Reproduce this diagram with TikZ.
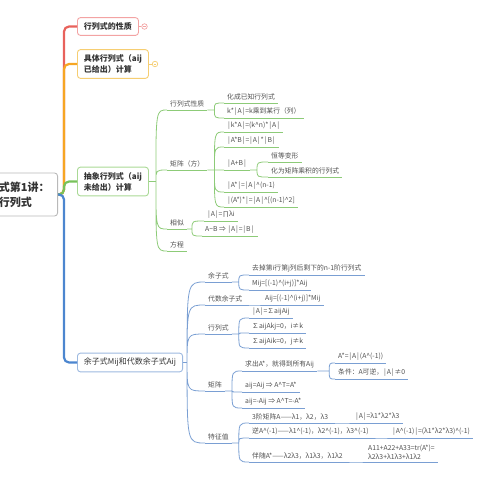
\documentclass[tikz,border=0pt]{standalone}
\usepackage{fontspec}
\setmainfont{Noto Sans CJK SC}
\usetikzlibrary{calc}
\newcommand{\vb}{\kern0.9pt|\kern0.9pt}
\definecolor{redl}{HTML}{E8625C}
\definecolor{redb}{HTML}{F3A3A3}
\definecolor{orgl}{HTML}{F6A623}
\definecolor{orgb}{HTML}{F6CE72}
\definecolor{grnl}{HTML}{78C25A}
\definecolor{grnb}{HTML}{A9D995}
\definecolor{grns}{HTML}{8DCB78}
\definecolor{blul}{HTML}{4C86CF}
\definecolor{blub}{HTML}{9DB9E0}
\definecolor{blus}{HTML}{7A9FD3}
\definecolor{txt}{HTML}{333333}
\definecolor{txts}{HTML}{505050}
\begin{document}
\begin{tikzpicture}[x=1pt,y=-1pt,
  rootbox/.style={draw=gray!55, line width=0.9pt, rounded corners=3pt, fill=white,
    font=\fontsize{11}{15}\selectfont\bfseries, text=txt, align=left,
    inner xsep=8pt, inner ysep=4pt, minimum height=43pt, anchor=east},
  mainbox/.style={draw=#1, line width=0.9pt, rounded corners=3pt, fill=white,
    font=\fontsize{8}{11}\selectfont\bfseries, text=txt, align=left,
    inner xsep=6.5pt, inner ysep=5pt, anchor=west},
  spine/.style={draw=#1, line width=2.2pt, rounded corners=5pt},
  subt/.style={font=\fontsize{6.8}{9}\selectfont, text=txts, align=left,
    inner xsep=3pt, inner ysep=2.5pt, anchor=south west,
    append after command={\pgfextra{\draw[#1, line width=0.8pt] (\tikzlastnode.south west) -- (\tikzlastnode.south east);}}},
  gsub/.style={subt=grns}, bsub/.style={subt=blus},
  glink/.style={draw=grns, line width=0.8pt},
  blink/.style={draw=blus, line width=0.8pt},
  link/.style={to path={let \p1=(\tikztostart), \p2=(\tikztotarget) in -- (\x1+#1,\y1) .. controls (\x1+#1,\y2) .. (\p2)}},
  link/.default=7pt,
  ind/.style={circle, draw=#1, line width=0.7pt, fill=white, minimum size=5.5pt, inner sep=0pt}
]
\useasboundingbox (0,0) rectangle (480,480);

% root and main branches
\node[rootbox] (root) at (58,194.5) {式第1讲：\\行列式};
\coordinate (sp) at (64,194.5);
\node[mainbox=redb] (m1) at (77,26.5) {行列式的性质};
\node[mainbox=orgb] (m2) at (77,64) {具体行列式（aij\\已给出）计算};
\node[mainbox=grnb] (m3) at (77,181.5) {抽象行列式（aij\\未给出）计算};
\node[mainbox=blub, font=\fontsize{8}{11}\selectfont] (m4) at (77,362.5) {余子式Mij和代数余子式Aij};

\draw[spine=redl] (root.east) -- (sp) |- (m1.west);
\draw[spine=orgl] (root.east) -- (sp) |- (m2.west);
\draw[spine=grnl] (root.east) -- (sp) |- (m3.west);
\draw[spine=blul] (root.east) -- (sp) |- (m4.west);

% collapse indicators
\node[ind=redb] (c1) at (144.5,26.5) {};
\node[ind=orgb] (c2) at (155,64) {};
\draw[redb, line width=0.7pt] (m1.east) -- (c1.west);
\draw[orgb, line width=0.7pt] (m2.east) -- (c2.west);
\draw[redb, line width=0.6pt] ([xshift=-1.4pt]c1.center) -- ([xshift=1.4pt]c1.center);
\draw[orgb, line width=0.6pt] ([xshift=-1.4pt]c2.center) -- ([xshift=1.4pt]c2.center);

% green branch
\node[gsub] (gA) at (167,110) {行列式性质};
\node[gsub] (gB) at (167,170) {矩阵（方）};
\node[gsub] (gC) at (167,229) {相似};
\node[gsub] (gD) at (167,251) {方程};
\node[gsub] (gA1) at (224,103) {化成已知行列式};
\node[gsub] (gA2) at (224,118) {k*\vb A\vb=k乘到某行（列）};
\node[gsub] (gB1) at (224,132) {\vb k*A\vb=(k\^{}n)*\vb A\vb};
\node[gsub] (gB2) at (224,147) {\vb A*B\vb=\vb A\vb*\vb B\vb};
\node[gsub] (gB3) at (224,170) {\vb A+B\vb};
\node[gsub] (gB4) at (224,192) {\vb A*\vb=\vb A\vb\^{}(n-1)};
\node[gsub] (gB5) at (224,207) {\vb(A*)*\vb=\vb A\vb\^{}[(n-1)\^{}2]};
\node[gsub] (gC1) at (204,221) {\vb A\vb=∏λi};
\node[gsub] (gC2) at (202,236) {A\textasciitilde B ⇒ \vb A\vb=\vb B\vb};
\node[gsub] (gB31) at (268,162) {恒等变形};
\node[gsub] (gB32) at (268,177) {化为矩阵乘积的行列式};

\draw[glink] (m3.east) to[link] (gA.south west) (m3.east) to[link] (gB.south west)
  (m3.east) to[link] (gC.south west) (m3.east) to[link] (gD.south west);
\draw[glink] (gA.south east) to[link] (gA1.south west) (gA.south east) to[link] (gA2.south west);
\draw[glink] (gB.south east) to[link] (gB1.south west) (gB.south east) to[link] (gB2.south west)
  (gB.south east) to[link] (gB3.south west) (gB.south east) to[link] (gB4.south west)
  (gB.south east) to[link] (gB5.south west);
\draw[glink] (gC.south east) to[link=5pt] (gC1.south west) (gC.south east) to[link=5pt] (gC2.south west);
\draw[glink] (gB3.south east) to[link] (gB31.south west) (gB3.south east) to[link] (gB32.south west);

% blue branch
\node[bsub] (bA) at (205,282) {余子式};
\node[bsub] (bB) at (205,305) {代数余子式};
\node[bsub] (bC) at (205,334) {行列式};
\node[bsub] (bD) at (205,391) {矩阵};
\node[bsub] (bE) at (205,443) {特征值};
\node[bsub] (bA1) at (249,275) {去掉第i行第j列后剩下的n-1阶行列式};
\node[bsub] (bA2) at (249,290) {Mij=[(-1)\^{}(i+j)]*Aij};
\node[bsub] (bB1) at (262,305) {Aij=[(-1)\^{}(i+j)]*Mij};
\node[bsub] (bC1) at (249,318) {\vb A\vb=∑aijAij};
\node[bsub] (bC2) at (249,333) {∑aijAkj=0，i≠k};
\node[bsub] (bC3) at (249,348) {∑aijAik=0，j≠k};
\node[bsub] (bD1) at (242,371) {求出A*，就得到所有Aij};
\node[bsub] (bD2) at (242,392) {aij=Aij ⇒ A\^{}T=A*};
\node[bsub] (bD3) at (242,408) {aij=-Aij ⇒ A\^{}T=-A*};
\node[bsub] (bE1) at (249,423) {3阶矩阵A——λ1，λ2，λ3};
\node[bsub] (bE2) at (249,438) {逆A\^{}(-1)——λ1\^{}(-1)，λ2\^{}(-1)，λ3\^{}(-1)};
\node[bsub] (bE3) at (249,462) {伴随A*——λ2λ3，λ1λ3，λ1λ2};
\node[bsub] (bD11) at (335,363) {A*=\vb A\vb(A\^{}(-1))};
\node[bsub] (bD12) at (335,379) {条件：A可逆，\vb A\vb≠0};
\node[bsub] (bE11) at (352,423) {\vb A\vb=λ1*λ2*λ3};
\node[bsub] (bE21) at (389,438) {\vb A\^{}(-1)\vb=(λ1*λ2*λ3)\^{}(-1)};
\node[bsub] (bE31) at (365,462) {A11+A22+A33=tr(A*)=\\λ2λ3+λ1λ3+λ1λ2};

\draw[blink] (m4.east) to[link=4pt] (bA.south west) (m4.east) to[link=4pt] (bB.south west)
  (m4.east) to[link=4pt] (bC.south west) (m4.east) to[link=4pt] (bD.south west)
  (m4.east) to[link=4pt] (bE.south west);
\draw[blink] (bA.south east) to[link] (bA1.south west) (bA.south east) to[link] (bA2.south west);
\draw[blink] (bB.south east) to[link] (bB1.south west);
\draw[blink] (bC.south east) to[link] (bC1.south west) (bC.south east) to[link] (bC2.south west)
  (bC.south east) to[link] (bC3.south west);
\draw[blink] (bD.south east) to[link] (bD1.south west) (bD.south east) to[link] (bD2.south west)
  (bD.south east) to[link] (bD3.south west);
\draw[blink] (bE.south east) to[link] (bE1.south west) (bE.south east) to[link] (bE2.south west)
  (bE.south east) to[link] (bE3.south west);
\draw[blink] (bD1.south east) to[link=12pt] (bD11.south west) (bD1.south east) to[link=12pt] (bD12.south west);
\draw[blink] (bE1.south east) to[link] (bE11.south west);
\draw[blink] (bE2.south east) to[link] (bE21.south west);
\draw[blink] (bE3.south east) to[link] (bE31.south west);
\end{tikzpicture}
\end{document}
